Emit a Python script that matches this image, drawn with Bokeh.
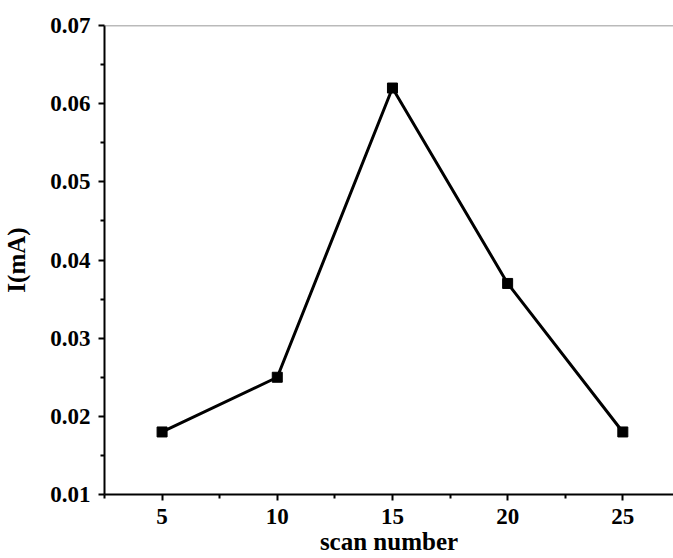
from bokeh.plotting import figure
from bokeh.models import FixedTicker, PrintfTickFormatter, Span, Range1d
from bokeh.embed import file_html
from bokeh.resources import INLINE

scan_number = [5, 10, 15, 20, 25]
current_mA = [0.018, 0.025, 0.062, 0.037, 0.018]
x_ticks = [5, 10, 15, 20, 25]
x_minor = [2.5, 7.5, 12.5, 17.5, 22.5, 27.5]
y_ticks = [0.01, 0.02, 0.03, 0.04, 0.05, 0.06, 0.07]
y_minor = [0.015, 0.025, 0.035, 0.045, 0.055, 0.065]

FONT = "Liberation Serif"

p = figure(width=673, height=558, output_backend="svg", toolbar_location=None,
           x_range=Range1d(2.5, 27.2), y_range=Range1d(0.01, 0.07),
           min_border_left=104, min_border_right=0, min_border_top=25, min_border_bottom=64)
p.outline_line_color = None
p.grid.visible = False
p.background_fill_color = "white"
p.border_fill_color = "white"

p.line(scan_number, current_mA, line_color="black", line_width=3)
p.scatter(scan_number, current_mA, marker="square", size=10, fill_color="black", line_color="black")

p.add_layout(Span(location=0.07, dimension="width", line_color="#777777", line_width=1.5))

for ax in (p.xaxis[0], p.yaxis[0]):
    ax.axis_line_width = 2
    ax.axis_line_color = "black"
    ax.major_tick_line_width = 2
    ax.minor_tick_line_width = 2
    ax.major_tick_in = 0
    ax.major_tick_out = 6
    ax.minor_tick_in = 0
    ax.minor_tick_out = 4
    ax.major_label_text_font = FONT
    ax.major_label_text_font_style = "bold"
    ax.major_label_text_font_size = "23px"
    ax.major_label_text_color = "black"
    ax.axis_label_text_font = FONT
    ax.axis_label_text_font_style = "bold"
    ax.axis_label_text_font_size = "25px"
    ax.axis_label_text_color = "black"

p.xaxis.ticker = FixedTicker(ticks=x_ticks, minor_ticks=x_minor)
p.yaxis.ticker = FixedTicker(ticks=y_ticks, minor_ticks=y_minor)
p.yaxis.formatter = PrintfTickFormatter(format="%.2f")
p.xaxis.axis_label = "scan number"
p.yaxis.axis_label = "I(mA)"
p.xaxis.major_label_standoff = 8
p.yaxis.major_label_standoff = 8
p.xaxis.axis_label_standoff = 1
p.yaxis.axis_label_standoff = 17

open("out.html", "w").write(file_html(p, INLINE))
